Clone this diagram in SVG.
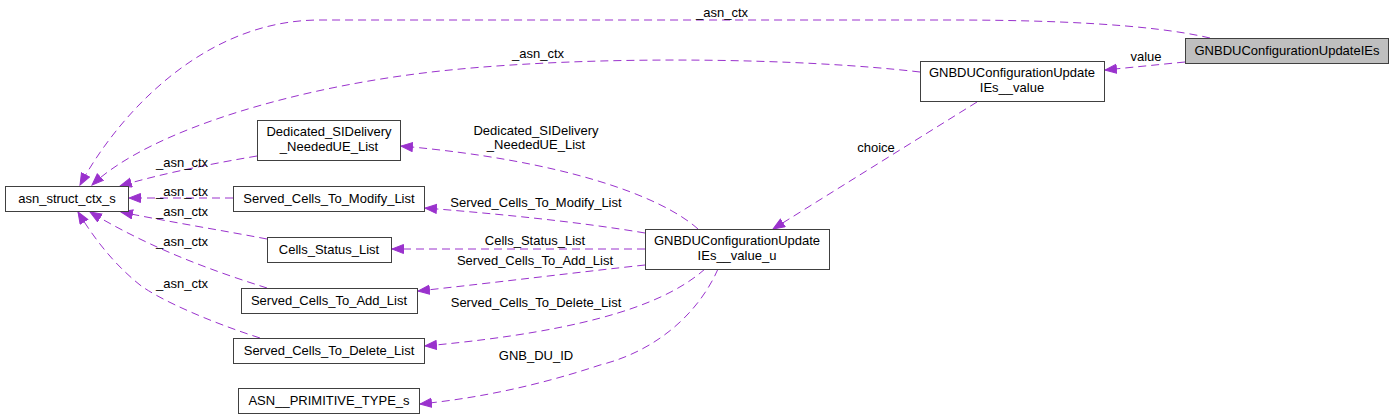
<svg xmlns="http://www.w3.org/2000/svg" width="1393" height="420" viewBox="0 0 1393 420">
<style>
text{font-family:"Liberation Sans",Arial,sans-serif;font-size:13px;fill:#000;text-anchor:middle}
.n rect{fill:#fff;stroke:#404040;stroke-width:1}
.e path{fill:none;stroke:#9a32cd;stroke-width:1;stroke-dasharray:8,5;marker-end:url(#ah)}
</style>
<defs>
<marker id="ah" markerUnits="userSpaceOnUse" markerWidth="14" markerHeight="11" refX="12" refY="5" orient="auto">
<path d="M0.5,0.5 L12,5 L0.5,9.5 z" fill="#9a32cd" stroke="#9a32cd" stroke-width="1"/>
</marker>
</defs>
<rect width="1393" height="420" fill="#fff"/>
<g id="connectors" class="e">
<path d="M1210,38 C1150,24 1050,20 950,20 L320,20 C200,20 115,120 80,185"/>
<path d="M920,72 C800,58 600,55 450,70 C300,85 150,130 92,185"/>
<path d="M257,156 C210,164 160,174 120,186"/>
<path d="M233,198 L129,198"/>
<path d="M267,239 C220,230 170,222 121,212"/>
<path d="M267,288 C210,270 150,248 90,212"/>
<path d="M260,338 C210,322 160,300 140,285 C115,265 95,240 78,212"/>
<path d="M698,229 C660,195 560,160 401,146"/>
<path d="M645,233 C580,222 500,214 425,208"/>
<path d="M645,249 L392,249"/>
<path d="M645,265 C580,272 500,282 418,291"/>
<path d="M705,269 C670,300 600,330 425,346"/>
<path d="M718,269 C700,310 660,350 600,365 C540,385 480,398 420,404"/>
<path d="M977,102 L773,229"/>
<path d="M1185,62 L1105,70"/>
</g>
<g id="edge-labels">
<text x="722" y="17">_asn_ctx</text>
<text x="538" y="58">_asn_ctx</text>
<text x="182" y="167">_asn_ctx</text>
<text x="182" y="196">_asn_ctx</text>
<text x="182" y="216">_asn_ctx</text>
<text x="182" y="246">_asn_ctx</text>
<text x="182" y="288">_asn_ctx</text>
<text x="536" y="135">Dedicated_SIDelivery</text>
<text x="536" y="149">_NeededUE_List</text>
<text x="536" y="207">Served_Cells_To_Modify_List</text>
<text x="535" y="245">Cells_Status_List</text>
<text x="535" y="265">Served_Cells_To_Add_List</text>
<text x="536" y="307">Served_Cells_To_Delete_List</text>
<text x="536" y="360">GNB_DU_ID</text>
<text x="876" y="152">choice</text>
<text x="1146" y="61">value</text>
</g>
<g id="n-asn_struct_ctx_s" class="n"><rect x="5.5" y="186.5" width="123" height="25"/><text x="67" y="203">asn_struct_ctx_s</text></g>
<g id="n-dedicated" class="n"><rect x="257.5" y="120.5" width="143" height="40"/><text x="329" y="136">Dedicated_SIDelivery</text><text x="329" y="151">_NeededUE_List</text></g>
<g id="n-modify" class="n"><rect x="233.5" y="186.5" width="191" height="25"/><text x="329" y="203">Served_Cells_To_Modify_List</text></g>
<g id="n-cells-status" class="n"><rect x="267.5" y="237.5" width="124" height="25"/><text x="329" y="254">Cells_Status_List</text></g>
<g id="n-add" class="n"><rect x="241.5" y="288.5" width="176" height="25"/><text x="329" y="305">Served_Cells_To_Add_List</text></g>
<g id="n-delete" class="n"><rect x="233.5" y="338.5" width="191" height="25"/><text x="329" y="355">Served_Cells_To_Delete_List</text></g>
<g id="n-primitive" class="n"><rect x="238.5" y="388.5" width="181" height="25"/><text x="329" y="405">ASN__PRIMITIVE_TYPE_s</text></g>
<g id="n-ies" class="n"><rect x="1185.5" y="38.5" width="203" height="25" style="fill:#bfbfbf"/><text x="1287" y="55">GNBDUConfigurationUpdateIEs</text></g>
<g id="n-value" class="n"><rect x="920.5" y="61.5" width="184" height="40"/><text x="1012" y="77">GNBDUConfigurationUpdate</text><text x="1012" y="92">IEs__value</text></g>
<g id="n-value-u" class="n"><rect x="645.5" y="229.5" width="184" height="40"/><text x="737" y="245">GNBDUConfigurationUpdate</text><text x="737" y="260">IEs__value_u</text></g>
</svg>
